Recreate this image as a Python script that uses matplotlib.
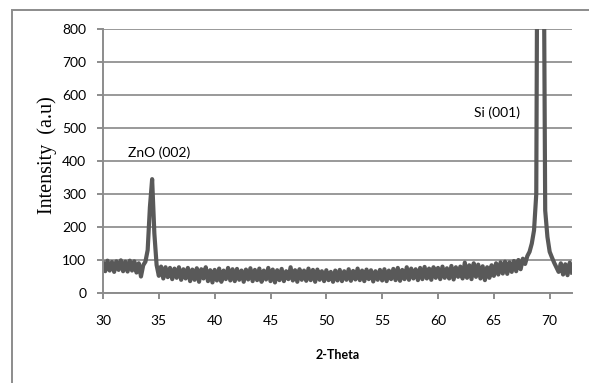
import numpy as np
import matplotlib.pyplot as plt
from matplotlib.patches import Rectangle

# XRD scan: 2-theta from 30 to 72 deg, 0.2 deg steps
two_theta = np.round(np.arange(30.0, 72.0001, 0.2), 1)
intensity = [
    92, 66, 98, 68, 94,        # 30
    64, 96, 70, 99, 66,        # 31
    95, 65, 98, 68, 96,        # 32
    62, 90, 50, 84, 95,        # 33
    130, 260, 345, 180, 85,    # 34
    52, 80, 44, 78, 48,        # 35
    76, 42, 74, 46, 78,        # 36
    40, 72, 44, 76, 36,        # 37
    71, 40, 75, 34, 72,        # 38
    44, 78, 36, 69, 32,        # 39
    70, 38, 74, 34, 68,        # 40
    42, 76, 38, 72, 36,        # 41
    73, 40, 68, 34, 71,        # 42
    41, 75, 36, 70, 39,        # 43
    74, 34, 68, 41, 76,        # 44
    36, 71, 32, 69, 39,        # 45
    73, 36, 66, 42, 78,        # 46
    38, 69, 34, 72, 40,        # 47
    68, 37, 74, 39, 70,        # 48
    34, 71, 40, 66, 36,        # 49
    69, 39, 64, 34, 68,        # 50
    38, 70, 36, 66, 40,        # 51
    72, 37, 67, 41, 74,        # 52
    39, 68, 36, 71, 42,        # 53
    69, 35, 66, 40, 70,        # 54
    38, 72, 36, 68, 42,        # 55
    73, 39, 76, 37, 70,        # 56
    42, 78, 40, 74, 44,        # 57
    72, 39, 76, 42, 79,        # 58
    44, 74, 40, 78, 46,        # 59
    76, 42, 80, 46, 75,        # 60
    44, 82, 41, 78, 49,        # 61
    80, 44, 92, 46, 84,        # 62
    42, 90, 49, 86, 44,        # 63
    81, 39, 78, 46, 84,        # 64
    52, 90, 56, 93, 59,        # 65
    95, 58, 93, 64, 97,        # 66
    66, 100, 72, 104, 88,      # 67
    112, 125, 150, 190, 300,   # 68
    2000, 3000, 1500, 250, 170,  # 69
    125, 108, 92, 78, 64,      # 70
    90, 56, 87, 54, 92,        # 71
    62,                        # 72
]

x_ticks = [30, 35, 40, 45, 50, 55, 60, 65, 70]
y_ticks = [0, 100, 200, 300, 400, 500, 600, 700, 800]
peak_labels = ["ZnO (002)", "Si (001)"]
peak_label_pos = [(35.0, 424), (65.3, 545)]

grey = "#8c8c8c"
line_col = "#595959"
tick_font = "Lato"

fig = plt.figure(figsize=(5.89, 3.83), dpi=100)
ax = fig.add_axes([103 / 589, 1 - 293 / 383, (572 - 103) / 589, (293 - 29) / 383])

ax.plot(two_theta, intensity, color=line_col, lw=3.0, solid_joinstyle="round")

ax.set_xlim(30, 72)
ax.set_ylim(0, 800)
ax.set_xticks(x_ticks)
ax.set_yticks(y_ticks)
ax.grid(axis="y", color="#999999", lw=1.4)
ax.set_axisbelow(True)

for s in ["top", "right"]:
    ax.spines[s].set_visible(False)
for s in ["left", "bottom"]:
    ax.spines[s].set_color(grey)
    ax.spines[s].set_linewidth(1.4)

ax.tick_params(axis="x", direction="out", length=4, width=1.4, color=grey, pad=12)
ax.tick_params(axis="y", direction="out", length=4, width=1.4, color=grey, pad=8)
for lab in ax.get_xticklabels() + ax.get_yticklabels():
    lab.set_fontfamily(tick_font)
    lab.set_fontsize(10)

for txt, (px, py) in zip(peak_labels, peak_label_pos):
    ax.text(px, py, txt, ha="center", va="center", family=tick_font, fontsize=10)

fig.text(47 / 589, 1 - 155 / 383, "Intensity  (a.u)", rotation=90, ha="center", va="center",
         family="Liberation Serif", fontsize=14.5)
fig.text(338 / 589, 1 - 355 / 383, "2-Theta", ha="center", va="center",
         family=tick_font, fontsize=9, fontweight="bold")

# outer chart frame (left and top edges visible)
fig.patches.append(Rectangle((12 / 589, -0.1), 1.1, (383 - 10) / 383 + 0.1,
                             transform=fig.transFigure, fill=False, edgecolor=grey, lw=1.4))

plt.savefig("out.png", dpi=100)
